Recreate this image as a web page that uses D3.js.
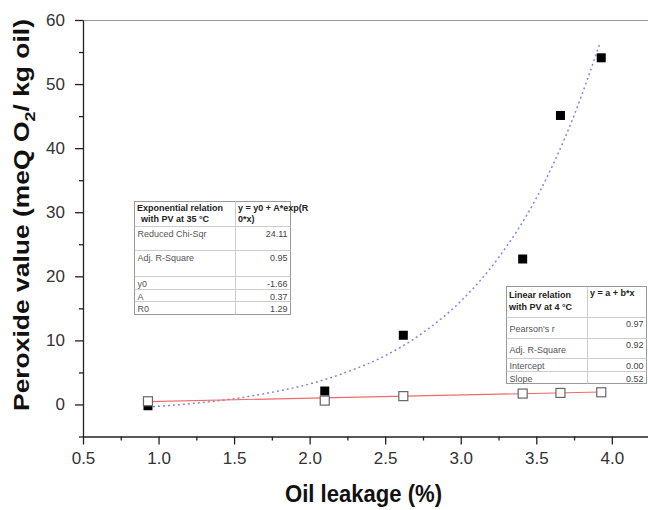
<!DOCTYPE html>
<html>
<head>
<meta charset="utf-8">
<script src="https://cdn.jsdelivr.net/npm/d3@7"></script>
<style>
  body { margin: 0; background: #fff; }
  svg { display: block; font-family: "Liberation Sans", Arial, sans-serif; }
</style>
</head>
<body>
<div id="chart"></div>
<script>
// measured points
const leakage = [0.93, 2.1, 2.62, 3.41, 3.66, 3.93]
const pv35 = [-0.2, 2.1, 10.8, 22.7, 45.1, 54.1]
const pv4 = [0.5, 0.6, 1.3, 1.7, 1.8, 1.9]

// fitted curves
const expFitX = [0.93, 1.25, 1.5, 1.75, 2.0, 2.25, 2.5, 2.75, 3.0, 3.25, 3.5, 3.75, 3.92]
const expFitY = [-0.4, 0.2, 0.9, 1.9, 3.2, 5.1, 7.6, 11.2, 16.1, 22.9, 32.2, 45.1, 56.3]
const linFitX = [0.93, 3.93]
const linFitY = [0.45, 1.95]

const xMajor = [0.5, 1.0, 1.5, 2.0, 2.5, 3.0, 3.5, 4.0]
const xMinor = [0.75, 1.25, 1.75, 2.25, 2.75, 3.25, 3.75]
const yMajor = [0, 10, 20, 30, 40, 50, 60]
const yMinor = [-5, 5, 15, 25, 35, 45, 55]

const expRows = [['Reduced Chi-Sqr', '24.11'], ['Adj. R-Square', '0.95'], ['y0', '-1.66'], ['A', '0.37'], ['R0', '1.29']]
const linRows = [["Pearson's r", '0.97'], ['Adj. R-Square', '0.92'], ['Intercept', '0.00'], ['Slope', '0.52']]

const W = 648, H = 510
const svg = d3.select('#chart').append('svg').attr('width', W).attr('height', H)

const x = d3.scaleLinear().domain([0.5, 4.25]).range([83, 649.6])
const y = d3.scaleLinear().domain([-5, 60]).range([436.5, 20])

// top frame line
svg.append('line')
  .attr('x1', x(0.5)).attr('x2', W)
  .attr('y1', y(60) + 0.5).attr('y2', y(60) + 0.5)
  .attr('stroke', '#999')

function styleAxis(g) {
  g.selectAll('path.domain').attr('stroke', '#222').attr('stroke-width', 1.3)
  g.selectAll('.tick line').attr('stroke', '#222').attr('stroke-width', 1.3)
  g.selectAll('.tick text').attr('fill', '#333').attr('font-size', 17)
    .attr('font-family', '"Liberation Sans", Arial, sans-serif')
}

// x axis
const gx = svg.append('g').attr('transform', `translate(0,${y(-5)})`)
gx.call(d3.axisBottom(x).tickValues(xMajor).tickSize(8).tickSizeOuter(0).tickPadding(7)
  .tickFormat(d3.format('.1f')))
svg.append('g').attr('transform', `translate(0,${y(-5)})`)
  .call(d3.axisBottom(x).tickValues(xMinor).tickSize(4).tickFormat(''))
  .call(g => g.select('.domain').remove())
  .call(styleAxis)
styleAxis(gx)

// y axis
const gy = svg.append('g').attr('transform', `translate(${x(0.5)},0)`)
gy.call(d3.axisLeft(y).tickValues(yMajor).tickSize(8).tickSizeOuter(0).tickPadding(10))
svg.append('g').attr('transform', `translate(${x(0.5)},0)`)
  .call(d3.axisLeft(y).tickValues(yMinor).tickSize(4).tickFormat(''))
  .call(g => g.select('.domain').remove())
  .call(styleAxis)
styleAxis(gy)

// axis titles
svg.append('text')
  .attr('x', (x(0.5) + W) / 2 - 2).attr('y', 502)
  .attr('text-anchor', 'middle')
  .attr('font-size', 23).attr('font-weight', 'bold').attr('fill', '#111')
  .attr('textLength', 157).attr('lengthAdjust', 'spacingAndGlyphs')
  .text('Oil leakage (%)')

const yt = svg.append('text')
  .attr('transform', `translate(29,${(20 + 410) / 2}) rotate(-90)`)
  .attr('text-anchor', 'middle')
  .attr('font-size', 22).attr('font-weight', 'bold').attr('fill', '#111')
  .attr('textLength', 392).attr('lengthAdjust', 'spacingAndGlyphs')
yt.append('tspan').text('Peroxide value (meQ O')
yt.append('tspan').attr('font-size', 15).attr('dy', 6).text('2')
yt.append('tspan').attr('dy', -6).text('/ kg oil)')

// fit lines
const line = d3.line().x(d => x(d[0])).y(d => y(d[1])).curve(d3.curveMonotoneX)
svg.append('path')
  .datum(expFitX.map((v, i) => [v, expFitY[i]]))
  .attr('d', line)
  .attr('fill', 'none').attr('stroke', '#8585e8').attr('stroke-width', 1.5)
  .attr('stroke-dasharray', '2,3')
svg.append('path')
  .datum(linFitX.map((v, i) => [v, linFitY[i]]))
  .attr('d', line)
  .attr('fill', 'none').attr('stroke', '#ef6a6a').attr('stroke-width', 1.1)

// markers
const s = 9
svg.append('g').selectAll('rect')
  .data(leakage.map((v, i) => [v, pv35[i]]))
  .join('rect')
  .attr('x', d => x(d[0]) - s / 2).attr('y', d => y(d[1]) - s / 2)
  .attr('width', s).attr('height', s)
  .attr('fill', '#000')
svg.append('g').selectAll('rect')
  .data(leakage.map((v, i) => [v, pv4[i]]))
  .join('rect')
  .attr('x', d => x(d[0]) - s / 2).attr('y', d => y(d[1]) - s / 2)
  .attr('width', s).attr('height', s)
  .attr('fill', '#fff').attr('stroke', '#666').attr('stroke-width', 1.2)

// stats tables
function table(x0, x1, xMid, y0, lines, head, body) {
  const g = svg.append('g')
  const yEnd = lines[lines.length - 1]
  g.append('rect').attr('x', x0).attr('y', y0).attr('width', x1 - x0).attr('height', yEnd - y0)
    .attr('fill', '#fff').attr('stroke', '#999').attr('stroke-width', 1)
  g.append('line').attr('x1', xMid).attr('x2', xMid).attr('y1', y0).attr('y2', yEnd)
    .attr('stroke', '#ccc')
  lines.slice(0, -1).forEach(ly => {
    g.append('line').attr('x1', x0).attr('x2', x1).attr('y1', ly).attr('y2', ly).attr('stroke', '#ccc')
  })
  head.forEach(h => {
    g.append('text').attr('x', h[0]).attr('y', h[1]).attr('font-size', 9)
      .attr('font-weight', h[3] ? 'bold' : 'normal').attr('fill', '#222').text(h[2])
  })
  body.forEach((r, i) => {
    const top = lines[i]
    g.append('text').attr('x', x0 + 3).attr('y', top + r[2]).attr('font-size', 9)
      .attr('fill', '#555').text(r[0])
    g.append('text').attr('x', x1 - 3).attr('y', top + r[3]).attr('font-size', 9)
      .attr('text-anchor', 'end').attr('fill', '#444').text(r[1])
  })
}

table(134.5, 290.5, 235.5, 201.5, [226.5, 250.5, 276.5, 289.5, 301.5, 314.5],
  [[137, 211, 'Exponential relation', true], [141, 222, 'with PV at 35 °C', true],
   [238, 211, 'y = y0 + A*exp(R', true], [238, 222, '0*x)', true]],
  expRows.map(r => [r[0], r[1], 10, 10]))

table(506.5, 646.5, 587.5, 286.5, [317.5, 338.5, 358.5, 371.5, 383.5],
  [[509, 298, 'Linear relation', true], [509, 310, 'with PV at 4 °C', true],
   [590, 296, 'y = a + b*x', true]],
  linRows.map((r, i) => [r[0], r[1], i < 2 ? 14 : 10, i < 2 ? 9 : 10]))
</script>
</body>
</html>
